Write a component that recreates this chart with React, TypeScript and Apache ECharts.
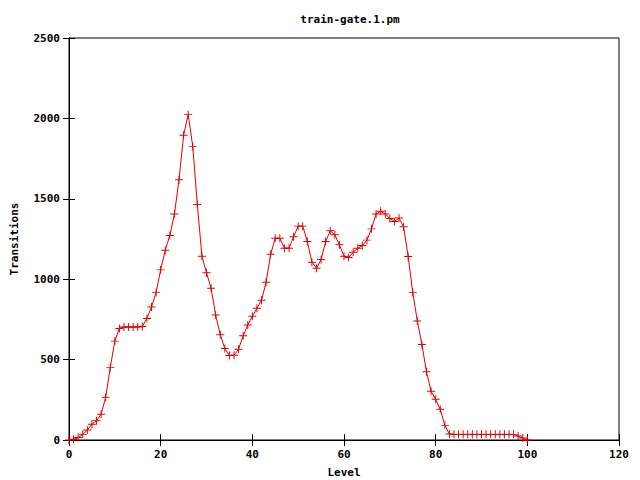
import React, { useEffect, useRef } from "react";
import * as echarts from "echarts";

const titleText = "train-gate.1.pm";
const xName = "Level";
const yName = "Transitions";

const levels: number[] = Array.from({ length: 101 }, (_, i) => i);
const transitions: number[] = [
  0, 5, 15, 35, 62, 98, 120, 160, 266, 450,
  615, 694, 703, 703, 703, 703, 706, 756, 827, 918,
  1058, 1180, 1272, 1405, 1618, 1895, 2025, 1826, 1465, 1143,
  1040, 944, 777, 655, 569, 525, 527, 565, 648, 715,
  769, 819, 869, 981, 1155, 1255, 1255, 1193, 1193, 1264,
  1330, 1330, 1234, 1106, 1068, 1122, 1234, 1301, 1276, 1214,
  1143, 1135, 1168, 1193, 1209, 1243, 1313, 1405, 1422, 1405,
  1378, 1359, 1380, 1326, 1141, 918, 740, 594, 424, 303,
  253, 191, 91, 37, 35, 35, 35, 35, 35, 35,
  35, 35, 35, 35, 35, 35, 35, 35, 25, 12,
  0,
];

const font = "DejaVu Sans Mono";

export default function App() {
  const ref = useRef<HTMLDivElement>(null);
  useEffect(() => {
    if (!ref.current) return;
    const chart = echarts.init(ref.current, undefined, { renderer: "svg" });
    const tickStyle = { show: true, inside: true, length: 6, lineStyle: { color: "#000" } };
    const labelStyle = { fontFamily: font, fontWeight: "bold" as const, fontSize: 11, color: "#000" };
    chart.setOption({
      animation: false,
      backgroundColor: "#fff",
      title: {
        text: titleText,
        left: 345,
        top: 9,
        textAlign: "center",
        textStyle: { ...labelStyle },
      },
      grid: {
        left: 69,
        right: 21,
        top: 38,
        bottom: 40,
        outerBoundsMode: "none",
        containLabel: false,
        show: true,
        borderColor: "#000",
        borderWidth: 1,
        backgroundColor: "transparent",
      },
      xAxis: [
        {
          type: "value",
          min: 0,
          max: 120,
          interval: 20,
          position: "bottom",
          name: xName,
          nameLocation: "middle",
          nameGap: 27,
          nameTextStyle: { ...labelStyle },
          axisLine: { show: true, lineStyle: { color: "#000" } },
          axisTick: tickStyle,
          axisLabel: { ...labelStyle, margin: 9 },
          splitLine: { show: false },
        },
        {
          type: "value",
          min: 0,
          max: 120,
          interval: 20,
          position: "top",
          axisLine: { show: true, lineStyle: { color: "#000" } },
          axisTick: tickStyle,
          axisLabel: { show: false },
          splitLine: { show: false },
        },
      ],
      yAxis: [
        {
          type: "value",
          min: 0,
          max: 2500,
          interval: 500,
          position: "left",
          name: yName,
          nameLocation: "middle",
          nameGap: 49,
          nameTextStyle: { ...labelStyle },
          axisLine: { show: true, lineStyle: { color: "#000" } },
          axisTick: tickStyle,
          axisLabel: { ...labelStyle, margin: 9, formatter: (v: number) => String(v) },
          splitLine: { show: false },
        },
        {
          type: "value",
          min: 0,
          max: 2500,
          interval: 500,
          position: "right",
          axisLine: { show: true, lineStyle: { color: "#000" } },
          axisTick: tickStyle,
          axisLabel: { show: false },
          splitLine: { show: false },
        },
      ],
      series: [
        {
          type: "line",
          xAxisIndex: 0,
          yAxisIndex: 0,
          data: levels.map((l, i) => [l, transitions[i]]),
          symbol: "path://M4.4,0H5.6V4.4H10V5.6H5.6V10H4.4V5.6H0V4.4H4.4Z",
          symbolSize: 8,
          showSymbol: true,
          showAllSymbol: true,
          itemStyle: { color: "#e00000" },
          lineStyle: { color: "#e00000", width: 1 },
        },
      ],
    });
    return () => chart.dispose();
  }, []);
  return (
    <div
      ref={ref}
      style={{ position: "fixed", left: 0, top: 0, width: 640, height: 480, background: "#fff" }}
    />
  );
}
